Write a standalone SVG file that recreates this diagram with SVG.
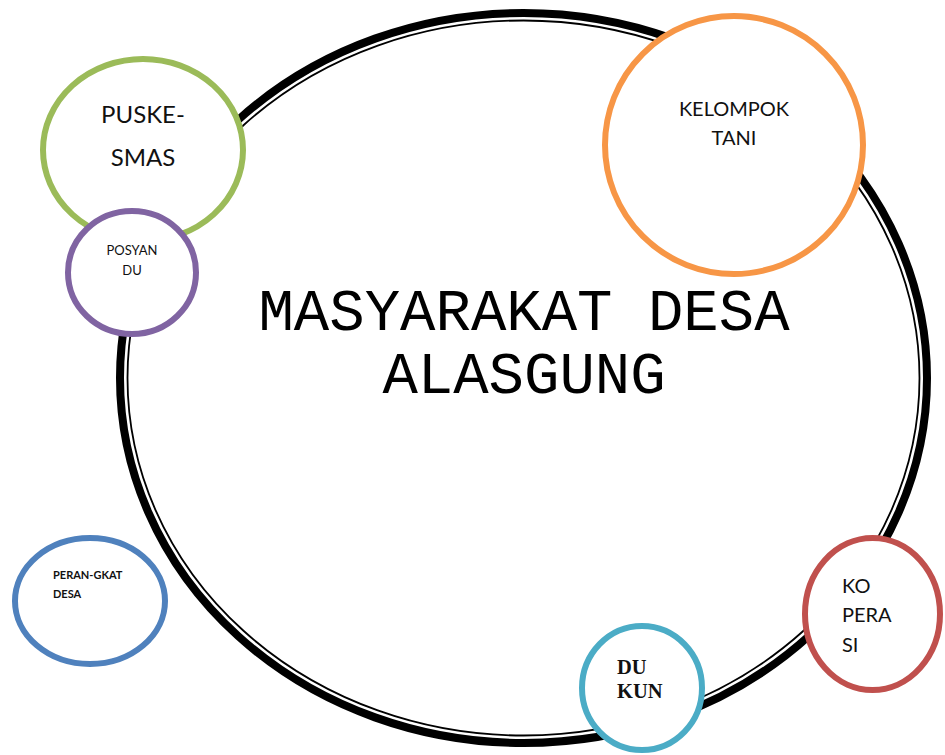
<svg xmlns="http://www.w3.org/2000/svg" width="945" height="755" viewBox="0 0 945 755">
<style>
.node{fill:#fff;stroke-width:6}
.lbl{font-family:Lato,"Open Sans","Noto Sans",sans-serif;fill:#111}
.mono{font-family:"Liberation Mono","Courier New",monospace;fill:#000;font-size:59px;text-anchor:middle}
.ser{font-family:"Liberation Serif","Times New Roman",serif;font-weight:bold;fill:#111;font-size:20.5px}
</style>
<rect width="945" height="755" fill="#fff"/>
<g id="masyarakat">
<ellipse cx="523.5" cy="378" rx="403.5" ry="365" fill="none" stroke="#000" stroke-width="8"/>
<ellipse cx="523.5" cy="378" rx="396" ry="357.5" fill="none" stroke="#000" stroke-width="1.8"/>
<text class="mono" x="524" y="330">MASYARAKAT DESA</text>
<text class="mono" x="524" y="393">ALASGUNG</text>
</g>
<g id="connectors"></g>
<g id="puskesmas">
<ellipse class="node" cx="143" cy="150" rx="100" ry="91" stroke="#9BBB59"/>
<text class="lbl" x="143" y="123" font-size="24" text-anchor="middle">PUSKE-</text>
<text class="lbl" x="143" y="166" font-size="24" text-anchor="middle">SMAS</text>
</g>
<g id="posyandu">
<ellipse class="node" cx="132" cy="272.5" rx="64" ry="61.5" stroke="#8064A2"/>
<text class="lbl" x="132" y="255" font-size="13" text-anchor="middle">POSYAN</text>
<text class="lbl" x="132" y="275" font-size="13" text-anchor="middle">DU</text>
</g>
<g id="kelompok-tani">
<ellipse class="node" cx="734" cy="145" rx="129" ry="129" stroke="#F79646"/>
<text class="lbl" x="734" y="116" font-size="20" text-anchor="middle">KELOMPOK</text>
<text class="lbl" x="734" y="145" font-size="20" text-anchor="middle">TANI</text>
</g>
<g id="perangkat-desa">
<ellipse class="node" cx="90" cy="601" rx="75" ry="63" stroke="#4F81BD"/>
<text class="lbl" x="53" y="579" font-size="11" font-weight="bold">PERAN-GKAT</text>
<text class="lbl" x="53" y="598" font-size="11" font-weight="bold">DESA</text>
</g>
<g id="koperasi">
<ellipse class="node" cx="872.5" cy="614" rx="67.5" ry="76" stroke="#C0504D"/>
<text class="lbl" x="842" y="593" font-size="20">KO</text>
<text class="lbl" x="842" y="622" font-size="20">PERA</text>
<text class="lbl" x="842" y="652" font-size="20">SI</text>
</g>
<g id="dukun">
<ellipse class="node" cx="642" cy="688" rx="60" ry="62" stroke="#4BACC6"/>
<text class="ser" x="617" y="674">DU</text>
<text class="ser" x="617" y="698">KUN</text>
</g>
</svg>
